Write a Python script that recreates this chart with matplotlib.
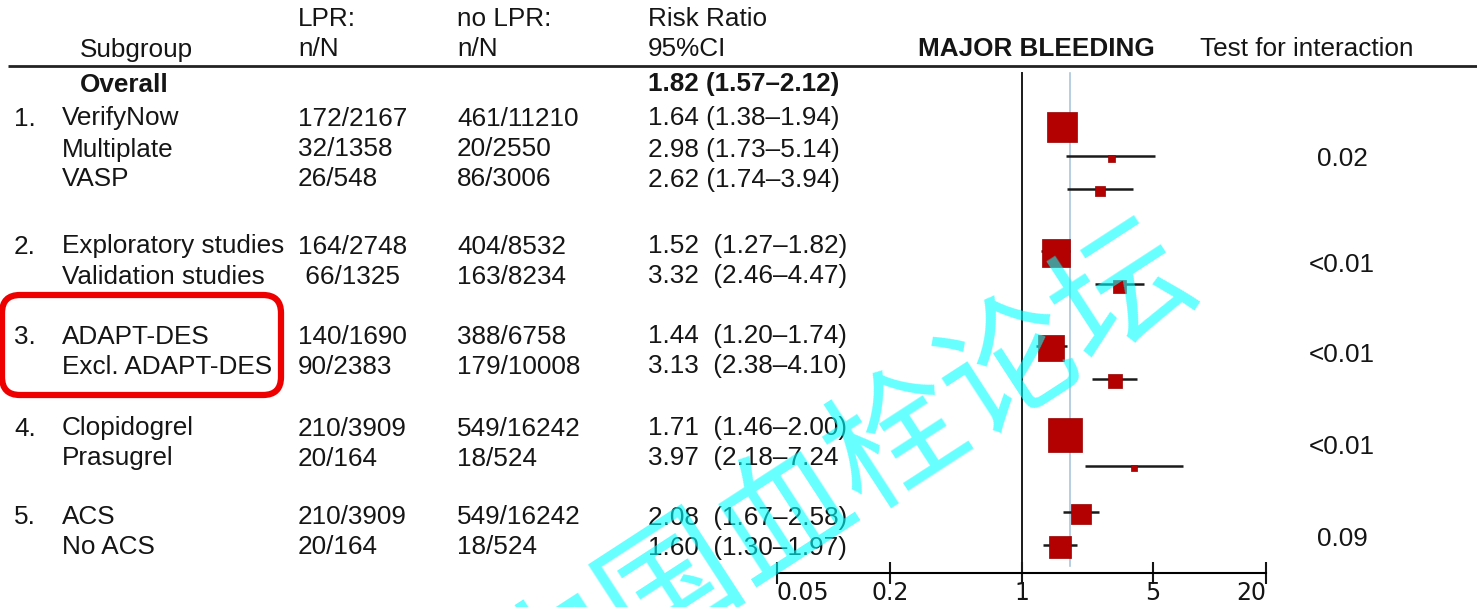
import numpy as np
import matplotlib
matplotlib.use("Agg")
import matplotlib.pyplot as plt
from matplotlib.patches import FancyBboxPatch
from matplotlib.ticker import NullLocator

# data
group_no = ["", "1.", "", "", "2.", "", "3.", "", "4.", "", "5.", ""]
subgroups = ["Overall", "VerifyNow", "Multiplate", "VASP",
             "Exploratory studies", "Validation studies",
             "ADAPT-DES", "Excl. ADAPT-DES",
             "Clopidogrel", "Prasugrel", "ACS", "No ACS"]
lpr = ["", "172/2167", "32/1358", "26/548", "164/2748", " 66/1325",
       "140/1690", "90/2383", "210/3909", "20/164", "210/3909", "20/164"]
no_lpr = ["", "461/11210", "20/2550", "86/3006", "404/8532", "163/8234",
          "388/6758", "179/10008", "549/16242", "18/524", "549/16242", "18/524"]
rr = [1.82, 1.64, 2.98, 2.62, 1.52, 3.32, 1.44, 3.13, 1.71, 3.97, 2.08, 1.60]
ci_lo = [1.57, 1.38, 1.73, 1.74, 1.27, 2.46, 1.20, 2.38, 1.46, 2.18, 1.67, 1.30]
ci_hi = [2.12, 1.94, 5.14, 3.94, 1.82, 4.47, 1.74, 4.10, 2.00, 7.24, 2.58, 1.97]
rr_text = ["1.82 (1.57\u20132.12)", "1.64 (1.38\u20131.94)", "2.98 (1.73\u20135.14)",
           "2.62 (1.74\u20133.94)", "1.52  (1.27\u20131.82)", "3.32  (2.46\u20134.47)",
           "1.44  (1.20\u20131.74)", "3.13  (2.38\u20134.10)", "1.71  (1.46\u20132.00)",
           "3.97  (2.18\u20137.24", "2.08  (1.67\u20132.58)", "1.60  (1.30\u20131.97)"]
p_interaction = ["0.02", "<0.01", "<0.01", "<0.01", "0.09"]
xticks = [0.05, 0.2, 1, 5, 20]
xtick_labels = ["0.05", "0.2", "1", "5", "20"]

# layout (pixels)
W, H = 1477, 607
text_y = [83, 117, 148, 178, 245, 275, 335, 365, 427, 457, 516, 546]
mark_y = [None, 125, 156, 189, 251, 284, 346, 379, 433, 466, 512, 545]
box_px = [0, 30, 7, 10, 28, 13, 27, 14, 34, 6, 20, 22]
p_y = [157, 263, 354, 445, 537]
base = 8.5
fs = 18.8
fam = ["Liberation Sans", "DejaVu Sans"]
ink = "#151515"
red = "#b30000"

fig = plt.figure(figsize=(W / 100, H / 100), dpi=100)
bg = fig.add_axes([0, 0, 1, 1])
bg.set_xlim(0, W)
bg.set_ylim(H, 0)
bg.axis("off")

def txt(x, y, s, **kw):
    bg.text(x, y + base, s, fontsize=fs, family=fam, color=ink, va="baseline", **kw)

# headers
txt(80, 48, "Subgroup")
txt(298, 18, "LPR:")
txt(298, 48, "n/N")
txt(457, 18, "no LPR:")
txt(457, 48, "n/N")
txt(648, 18, "Risk Ratio")
txt(648, 48, "95%CI")
txt(918, 48, "MAJOR BLEEDING", weight="bold")
txt(1200, 48, "Test for interaction")
bg.plot([8, W], [66, 66], color="#222222", lw=2.0, solid_capstyle="butt")

for i in range(len(subgroups)):
    y = text_y[i]
    if i == 0:
        txt(80, y, subgroups[i], weight="bold")
        txt(648, y, rr_text[i], weight="bold")
        continue
    txt(14, y, group_no[i])
    txt(62, y, subgroups[i])
    txt(298, y, lpr[i])
    txt(457, y, no_lpr[i])
    txt(648, y, rr_text[i])

for p, y in zip(p_interaction, p_y):
    txt(1342, y, p, ha="center")

# red highlight box
bg.add_patch(FancyBboxPatch((2, 295), 279, 100,
                            boxstyle="round,pad=0,rounding_size=18",
                            fill=False, ec="#ee0000", lw=4.5))

# forest plot
ax = fig.add_axes([777 / W, 0, 489 / W, 1])
ax.set_xscale("log")
ax.set_xlim(0.05, 20)
ax.set_ylim(H, 0)
ax.patch.set_visible(False)
for s in ["top", "left", "right"]:
    ax.spines[s].set_visible(False)
ax.spines["bottom"].set_position(("data", 573))
ax.spines["bottom"].set_linewidth(1.5)
ax.set_yticks([])
ax.set_xticks(xticks)
ax.set_xticklabels(xtick_labels)
ax.xaxis.set_minor_locator(NullLocator())
ax.tick_params(axis="x", direction="inout", length=16, width=1.5, pad=-2,
               labelsize=17, colors=ink)
for lab in ax.get_xticklabels():
    lab.set_family(["DejaVu Sans"])
tl = ax.get_xticklabels()
tl[0].set_horizontalalignment("left")
tl[-1].set_horizontalalignment("right")

ax.plot([1, 1], [73, 573], color="#1a1a1a", lw=1.4)
ax.plot([rr[0], rr[0]], [73, 566], color="#a9c6da", lw=1.2)

for i in range(1, len(rr)):
    y = mark_y[i]
    ax.plot([ci_lo[i], ci_hi[i]], [y, y], color="#1a1a1a", lw=1.8,
            solid_capstyle="butt", zorder=2)
    side = box_px[i] * 0.72
    ax.scatter([rr[i]], [y + 2], marker="s", s=side ** 2, color=red,
               edgecolors="#990000", linewidths=0.5, zorder=3)

# watermark
fig.text(841 / W, 1 - 475 / H, "中国血栓论坛", fontsize=97,
         family=["Noto Sans CJK SC", "DejaVu Sans"], color=(0, 1, 1), alpha=0.6,
         rotation=33, rotation_mode="anchor", ha="center", va="center", zorder=10)

fig.savefig("out.png", dpi=100)
